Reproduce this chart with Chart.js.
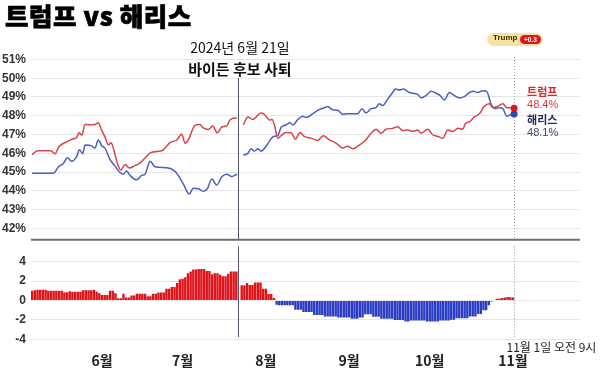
<!DOCTYPE html>
<html><head><meta charset="utf-8">
<script src="https://cdn.jsdelivr.net/npm/chart.js@4/dist/chart.umd.min.js"></script>
<style>
html,body{margin:0;padding:0;background:#fff;width:600px;height:371px;overflow:hidden;}
#wrap{position:relative;width:600px;height:371px;}
canvas{position:absolute;left:0;}
#cA{top:0;}
#cB{top:234px;}
#title{position:absolute;left:5px;top:-3px;font:900 25.5px "Noto Sans CJK KR";letter-spacing:0.6px;color:#000;line-height:36px;white-space:nowrap;-webkit-text-stroke:0.7px #000;}
#badge{position:absolute;left:487px;top:33px;width:56px;height:13px;background:#f7e2a0;border-radius:7px;}
#badge .who{position:absolute;left:6px;top:0;line-height:13px;font:bold 8px "Liberation Sans";color:#3a2c00;}
#badge .lead{position:absolute;left:33px;top:2px;width:21px;height:9px;background:#e0141c;border-radius:5px;color:#fff;font:bold 6.5px "Liberation Sans";line-height:9px;text-align:center;}
</style></head>
<body><div id="wrap">
<canvas id="cA" width="600" height="252"></canvas>
<canvas id="cB" width="600" height="137"></canvas>
<div id="title">트럼프 vs 해리스</div>
<div id="badge"><span class="who">Trump</span><span class="lead">+0.3</span></div>
</div>
<script>
// ---- data (x = days since May 1, 2024) ----
const trumpDays = [5,7,12,13,13.5,15,18,20,21.5,22.5,23.5,24.7,26.5,28.4,29.6,30.9,32.1,33.4,34.4,35.2,36.7,38,39.6,41.2,43.3,45.2,47,48.9,51.4,53.8,56.3,58.8,60.7,61.9,63.1,65.6,67.5,68.7,70.6,72.2,73.9,75.6,77.4,78.7,81.2,82.4,83.6,85.3,87.1,90.2,91.8,93.3,94.3,95.2,96.4,97.7,99.5,101.4,103,104.7,106.3,108.8,111.3,113.4,115.6,118.1,120.6,122.5,124.3,126.2,128.7,131.2,133,134.9,136.7,139.2,141.1,143,144.8,146.7,148.6,149.8,152.3,154.1,156,157.9,159.7,161.6,163.5,165.3,166.3,167.8,169.6,171.5,173.3,175.2,176.5,178.3,180.2,181.7,183.3];
const trumpVals = [45.93,46.14,46.14,46.02,45.98,46.36,46.62,46.76,46.83,47.09,46.97,47.54,47.52,47.54,47.63,47.23,46.88,46.45,46.57,46.28,45.49,45.11,45.41,45.22,45.35,45.49,45.75,46.02,46.1,46.19,46.57,46.71,47.02,46.54,46.71,47.49,47.54,47.35,47.27,47.46,47.09,47.4,47.46,47.79,47.89,null,47.51,47.94,47.80,48.15,48.03,47.77,47.8,47.51,46.81,46.94,47.11,47.1,46.76,47.11,46.9,46.81,46.69,46.94,46.72,46.55,46.29,46.38,46.24,46.38,46.64,47.07,47.28,47.07,47.28,47.33,47.42,47.21,47.24,47.16,47.24,47.07,47.28,46.99,46.9,46.81,47.24,47.16,47.33,47.28,47.59,47.68,47.94,48.11,48.5,48.64,48.43,48.5,48.64,48.43,48.43];
const bidenDays = [5,13,14.8,16.6,18.1,19.7,21.6,22.6,23.8,24.7,27.2,28.4,29.6,30.9,32.1,34,35.9,37.5,38.9,40.2,41.4,43.9,45.8,47,48.9,50.7,55.1,57.6,59.4,61.3,63.5,65,66.9,68.7,70.2,71.9,73.7,75.6,77.4,79.3,81.3];
const bidenVals = [44.94,44.94,45.29,45.46,45.76,45.58,45.84,46.19,45.98,46.45,46.40,46.28,46.71,46.40,46.28,45.67,45.32,45.01,44.89,45.06,44.83,44.59,44.83,44.89,45.58,45.29,45.23,45.11,44.83,44.36,43.84,44.14,44.12,43.98,44.12,44.63,44.31,44.75,44.89,44.77,44.89];
const harrisDays = [83.6,85.3,86.5,87.7,89,90.2,92.1,93.3,94.8,96.4,97.7,99.5,101,102,103.9,105.7,107.2,109.5,111.3,113.8,115,116.9,118.8,120.6,122.5,126.2,127.8,129.3,131.2,133,134.2,135.5,137.4,139.2,140.2,141.7,143.2,144.4,145.4,146.7,148.6,149.8,151.6,153.5,155.4,156.9,158.5,160.3,162.2,164.1,165.9,167.8,169.3,170.9,172.7,174.2,175.8,177.4,178.9,180.2,181.7,183.3];
const harrisVals = [45.91,46.0,46.24,46.12,46.24,46.12,46.38,46.64,46.9,46.94,47.39,47.51,47.63,47.51,47.80,47.98,47.91,48.11,48.29,48.43,48.5,48.32,48.29,48.08,48.11,48.11,48.38,48.15,48.38,48.43,48.64,48.55,48.9,49.24,49.42,49.37,49.42,49.33,49.24,49.2,49.13,48.95,49.07,49.3,49.2,49.07,48.84,49.24,49.07,48.95,49.02,49.24,49.3,49.24,49.33,49.3,48.64,48.38,48.43,48.38,47.98,48.08];
// daily margin (Trump minus Democrat), from day 5 onward
const firstBarDay = 5;
const marginVals = [
 1.0,1.05,1.1,1.1,1.1,1.1,1.0,1.0,1.0,1.0,
 1.0,1.0,0.85,0.85,0.95,0.9,0.9,0.9,0.9,1.05,
 1.05,1.05,1.05,1.1,0.9,0.75,0.55,0.55,0.55,1.0,
 1.0,0.75,0.22,0.22,0.68,0.3,0.3,0.5,0.5,0.68,
 0.68,0.68,0.68,0.42,0.42,0.7,0.7,0.82,0.82,0.82,
 1.2,1.2,1.4,1.4,1.8,2.2,2.25,2.4,2.8,3.0,
 3.2,3.2,3.25,3.25,3.25,3.05,3.05,2.7,2.8,2.8,
 2.65,2.5,2.5,2.75,3.0,3.0,3.0,null,1.57,1.57,
 1.8,1.6,1.6,1.85,1.85,1.85,1.2,1.2,0.67,0.67,
 0.25,-0.45,-0.5,-0.5,-0.5,-0.5,-0.5,-0.5,-0.95,-0.95,
 -0.95,-1.2,-1.2,-1.2,-1.2,-1.5,-1.5,-1.5,-1.5,-1.65,
 -1.65,-1.65,-1.65,-1.65,-1.75,-1.75,-1.75,-1.75,-1.75,-1.88,
 -1.88,-1.88,-1.75,-1.75,-1.42,-1.42,-1.42,-1.68,-1.68,-1.68,
 -1.88,-1.88,-1.88,-1.88,-1.88,-2.02,-2.02,-2.02,-2.02,-2.17,
 -2.17,-2.07,-2.07,-2.07,-2.07,-2.07,-2.07,-2.17,-2.17,-2.17,
 -2.17,-2.17,-2.07,-2.07,-2.07,-2.07,-2.0,-2.0,-1.83,-1.83,
 -1.83,-1.83,-1.83,-1.67,-1.67,-1.67,-1.4,-1.4,-1.0,-1.0,
 -0.5,-0.12,0.05,0.18,0.2,0.25,0.3,0.35,0.32,0.3];
const monthDays = [31,61,92,123,153,184];
const monthLabels = ['6월','7월','8월','9월','10월','11월'];
const pctTicks = [42,43,44,45,46,47,48,49,50,51];
const marginTicks = [-4,-2,0,2,4];
const quitDay = 81.6;          // Biden withdrawal line
const nowDay = 184.4;          // 11월 1일 오전 9시
const trumpNow = 48.4, harrisNow = 48.1;
const annotDate = '2024년 6월 21일', annotEvent = '바이든 후보 사퇴';
const nowLabel = '11월 1일 오전 9시';
const nameTrump = '트럼프', nameHarris = '해리스';

// ---- config ----
const RED_LINE = '#d64545', BLUE_LINE = '#4b5fc0';
const RED_BAR = '#e0121a', BLUE_BAR = '#2a3cc4';
const X_MIN = 4.57, X_MAX = 208.94;
Chart.defaults.font.family = '"Liberation Sans", Arial, sans-serif';
const pts = (xs, ys) => xs.map((x, i) => ({x, y: ys[i]}));
const fixW = s => { s.width = 31; };

const topPlugin = {
  id: 'topDeco',
  beforeDatasetsDraw(chart) {
    const {ctx, chartArea: a, scales: {x}} = chart;
    ctx.save();
    const xq = Math.round(x.getPixelForValue(quitDay)) + 0.5;
    ctx.strokeStyle = '#55566e'; ctx.lineWidth = 1;
    ctx.beginPath(); ctx.moveTo(xq, 78); ctx.lineTo(xq, a.bottom); ctx.stroke();
    const xn = Math.round(x.getPixelForValue(nowDay)) + 0.5;
    ctx.strokeStyle = '#9a9a9a'; ctx.setLineDash([1, 2]);
    ctx.beginPath(); ctx.moveTo(xn, 57); ctx.lineTo(xn, a.bottom); ctx.stroke();
    ctx.setLineDash([]);
    ctx.restore();
  },
  afterDraw(chart) {
    const {ctx, chartArea: a, scales: {x, y}} = chart;
    ctx.save();
    ctx.strokeStyle = '#6e6e6e'; ctx.lineWidth = 2;
    ctx.beginPath(); ctx.moveTo(a.left, a.bottom); ctx.lineTo(a.right, a.bottom); ctx.stroke();
    const xq = x.getPixelForValue(quitDay);
    ctx.fillStyle = '#111'; ctx.textAlign = 'center'; ctx.textBaseline = 'middle';
    ctx.font = '14px "Noto Sans CJK KR"'; ctx.fillText(annotDate, xq + 2, 48);
    ctx.font = 'bold 15px "Noto Sans CJK KR"'; ctx.fillText(annotEvent, xq + 2, 69);
    const xl = x.getPixelForValue(nowDay) + 13;
    const yt = y.getPixelForValue(trumpNow), yh = y.getPixelForValue(harrisNow);
    ctx.textAlign = 'left';
    ctx.fillStyle = '#e0262b'; ctx.font = 'bold 11px "Noto Sans CJK KR"'; ctx.fillText(nameTrump, xl, yt - 16);
    ctx.fillStyle = '#d33a3a'; ctx.font = '11px "Liberation Sans"'; ctx.fillText(trumpNow.toFixed(1) + '%', xl, yt - 3);
    ctx.fillStyle = '#1c2b5c'; ctx.font = 'bold 11px "Noto Sans CJK KR"'; ctx.fillText(nameHarris, xl, yh + 6);
    ctx.fillStyle = '#3a4670'; ctx.font = '11px "Liberation Sans"'; ctx.fillText(harrisNow.toFixed(1) + '%', xl, yh + 19);
    ctx.restore();
  }
};

new Chart(document.getElementById('cA'), {
  type: 'line',
  data: { datasets: [
    { data: pts(trumpDays, trumpVals), borderColor: RED_LINE, borderWidth: 1.5, pointRadius: 0, spanGaps: false, cubicInterpolationMode: 'monotone' },
    { data: pts(bidenDays, bidenVals), borderColor: BLUE_LINE, borderWidth: 1.5, pointRadius: 0, cubicInterpolationMode: 'monotone' },
    { data: pts(harrisDays, harrisVals), borderColor: BLUE_LINE, borderWidth: 1.5, pointRadius: 0, cubicInterpolationMode: 'monotone' },
    { data: [{x: nowDay, y: trumpNow}], showLine: false, pointRadius: 3.5, pointBackgroundColor: '#e3121b', pointBorderWidth: 0 },
    { data: [{x: nowDay, y: harrisNow}], showLine: false, pointRadius: 3.5, pointBackgroundColor: '#2a46b8', pointBorderWidth: 0 }
  ]},
  options: {
    responsive: false, animation: false, devicePixelRatio: 1,
    layout: { padding: { left: 0, right: 20, top: 50, bottom: 9 } },
    plugins: { legend: { display: false }, tooltip: { enabled: false } },
    scales: {
      x: { type: 'linear', min: X_MIN, max: X_MAX, display: false },
      y: { min: 41.4, max: 51.5, afterFit: fixW,
           afterBuildTicks: s => { s.ticks = pctTicks.map(v => ({value: v})); },
           grid: { color: '#e6e6e6', drawTicks: false }, border: { display: false },
           ticks: { padding: 5, color: '#333', font: { size: 12, weight: 'bold' }, callback: v => v + '%' } }
    }
  },
  plugins: [topPlugin]
});

const botPlugin = {
  id: 'botDeco',
  afterDatasetsDraw(chart) {
    const {ctx, chartArea: a, scales: {x}} = chart;
    ctx.save();
    const xq = Math.round(x.getPixelForValue(quitDay)) + 0.5;
    ctx.strokeStyle = '#55566e'; ctx.lineWidth = 1;
    ctx.beginPath(); ctx.moveTo(xq, a.top); ctx.lineTo(xq, 103); ctx.stroke();
    const xn = Math.round(x.getPixelForValue(nowDay)) + 0.5;
    ctx.strokeStyle = '#9a9a9a'; ctx.setLineDash([1, 2]);
    ctx.beginPath(); ctx.moveTo(xn, a.top); ctx.lineTo(xn, 103); ctx.stroke();
    ctx.setLineDash([]);
    ctx.fillStyle = '#222'; ctx.font = '12px "Noto Sans CJK KR"'; ctx.textAlign = 'left'; ctx.textBaseline = 'middle';
    ctx.fillText(nowLabel, xn - 8, 113);
    ctx.restore();
  }
};

new Chart(document.getElementById('cB'), {
  type: 'bar',
  data: { datasets: [{
    data: marginVals.map((v, i) => ({x: firstBarDay + i, y: v})),
    backgroundColor: c => (c.raw && c.raw.y < 0) ? BLUE_BAR : RED_BAR,
    barPercentage: 0.9, categoryPercentage: 1.0
  }]},
  options: {
    responsive: false, animation: false, devicePixelRatio: 1,
    layout: { padding: { left: 0, right: 20, top: 9, bottom: 0 } },
    plugins: { legend: { display: false }, tooltip: { enabled: false } },
    scales: {
      x: { type: 'linear', min: X_MIN, max: X_MAX, offset: false,
           afterBuildTicks: s => { s.ticks = monthDays.map(v => ({value: v})); },
           afterFit: s => { s.height = 26; },
           grid: { display: false, drawTicks: false }, border: { display: false },
           ticks: { autoSkip: false, maxRotation: 0, padding: 7, color: '#222',
                    font: { family: '"Noto Sans CJK KR"', size: 14, weight: 'bold' },
                    callback: (v, i) => monthLabels[i] } },
      y: { min: -4.6, max: 5.6, afterFit: fixW,
           afterBuildTicks: s => { s.ticks = marginTicks.map(v => ({value: v})); },
           grid: { color: '#e6e6e6', drawTicks: false }, border: { display: false },
           ticks: { padding: 5, color: '#333', font: { size: 12, weight: 'bold' } } }
    }
  },
  plugins: [botPlugin]
});
</script>
</body></html>
